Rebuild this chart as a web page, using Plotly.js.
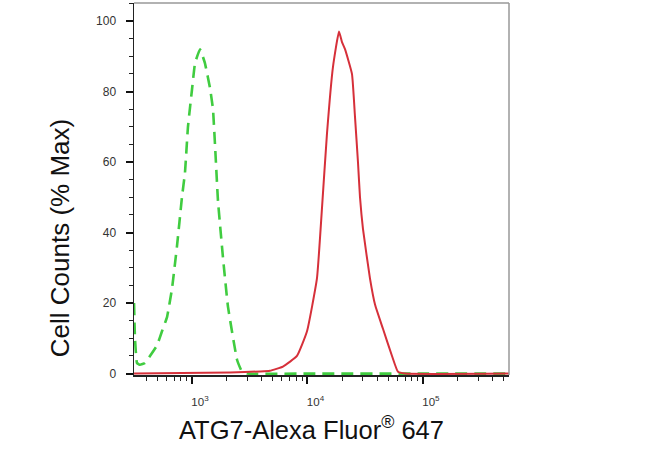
<!DOCTYPE html>
<html>
<head>
<meta charset="utf-8">
<script src="https://cdn.plot.ly/plotly-3.0.1.min.js"></script>
<style>html,body{margin:0;padding:0;background:#fff;}#chart{width:650px;height:468px;}</style>
</head>
<body>
<div id="chart"></div>
<script>
// Isotype control (green, dashed)
const controlX = [315, 321, 334, 355, 392, 433, 498, 550, 608, 671, 741, 819, 870, 923, 1000, 1062, 1173, 1296, 1432, 1520, 1600, 1679, 1854, 2049, 2453, 2710, 3000, 10000, 100000, 560000];
const controlY = [20, 10, 3, 2.5, 3, 5, 8, 12, 16, 24, 36, 50, 57, 70, 80.5, 88, 92, 88, 81, 75, 62, 49, 33, 19, 4, 0.5, 0, 0, 0, 0];
// ATG7 stained (red, solid)
const atgX = [315, 2133, 3879, 4732, 6135, 8110, 9908, 12080, 13360, 14750, 16630, 18750, 19900, 21130, 24280, 25770, 27370, 28500, 30260, 34760, 38500, 45060, 53950, 60800, 70000, 560000];
const atgY = [0, 0.3, 0.6, 0.8, 2, 5, 12, 27, 47, 68, 87, 97, 94, 92, 85, 73, 60, 50, 41, 27, 19.5, 12.7, 5, 0.5, 0, 0];
const xTickVals = [1000, 10000, 100000];
const xTickText = ['10<sup>3</sup>', '10<sup>4</sup>', '10<sup>5</sup>'];
const xMinorVals = [400, 500, 600, 700, 800, 900, 2000, 3000, 4000, 5000, 6000, 7000, 8000, 9000, 20000, 30000, 40000, 50000, 60000, 70000, 80000, 90000, 200000, 300000, 400000, 500000];
const yTickVals = [0, 20, 40, 60, 80, 100];
const xTitle = 'ATG7-Alexa Fluor<sup>®</sup> 647';
const yTitle = 'Cell Counts (% Max)';

const font = 'Arial, "Liberation Sans", sans-serif';
const traces = [
  {x: controlX, y: controlY, type: 'scatter', mode: 'lines',
   line: {color: '#40cc40', width: 2.6, dash: '12px,7px', shape: 'spline', smoothing: 0.3}},
  {x: atgX, y: atgY, type: 'scatter', mode: 'lines',
   line: {color: '#d6303a', width: 2, shape: 'spline', smoothing: 0.4}}
];
const layout = {
  width: 650, height: 468,
  margin: {l: 134, r: 141, t: 3, b: 93},
  paper_bgcolor: '#fff', plot_bgcolor: '#fff',
  showlegend: false,
  font: {family: font, color: '#222'},
  xaxis: {
    type: 'log', range: [2.498, 5.745],
    tickmode: 'array', tickvals: xTickVals, ticktext: xTickText,
    ticks: 'outside', ticklen: 7, tickwidth: 2, tickcolor: '#111',
    minor: {ticks: 'outside', ticklen: 4, tickwidth: 1, tickcolor: '#222',
            tickmode: 'array', tickvals: xMinorVals},
    showline: true, linecolor: '#222', linewidth: 1.5,
    showgrid: false, zeroline: false,
    tickfont: {size: 11.5, color: '#333'},
    ticklabelstandoff: 9, ticklabelshift: 8
  },
  yaxis: {
    range: [-0.4, 105.1],
    tickmode: 'array', tickvals: yTickVals,
    ticks: 'outside', ticklen: 7, tickwidth: 2, tickcolor: '#111',
    minor: {ticks: 'outside', ticklen: 4, tickwidth: 1, tickcolor: '#222', dtick: 5, tick0: 0},
    showline: true, linecolor: '#222', linewidth: 1.5,
    showgrid: false, zeroline: false,
    tickfont: {size: 12, color: '#333'},
    ticklabelstandoff: 7
  },
  annotations: [
    {text: xTitle, xref: 'paper', yref: 'paper', x: 0.472, y: -0.1425,
     xanchor: 'center', yanchor: 'middle', showarrow: false,
     font: {size: 25.5, color: '#111', family: font}},
    {text: yTitle, xref: 'paper', yref: 'paper', x: -0.197, y: 0.368, textangle: -90,
     xanchor: 'center', yanchor: 'middle', showarrow: false,
     font: {size: 26, color: '#111', family: font}}
  ],
  shapes: [
    {type: 'line', xref: 'paper', yref: 'paper', x0: 0, x1: 1, y0: 1, y1: 1, line: {color: '#999', width: 1.5}},
    {type: 'line', xref: 'paper', yref: 'paper', x0: 1, x1: 1, y0: 0, y1: 1, line: {color: '#999', width: 1.5}}
  ]
};
Plotly.newPlot('chart', traces, layout, {displayModeBar: false, staticPlot: true});
</script>
</body>
</html>
